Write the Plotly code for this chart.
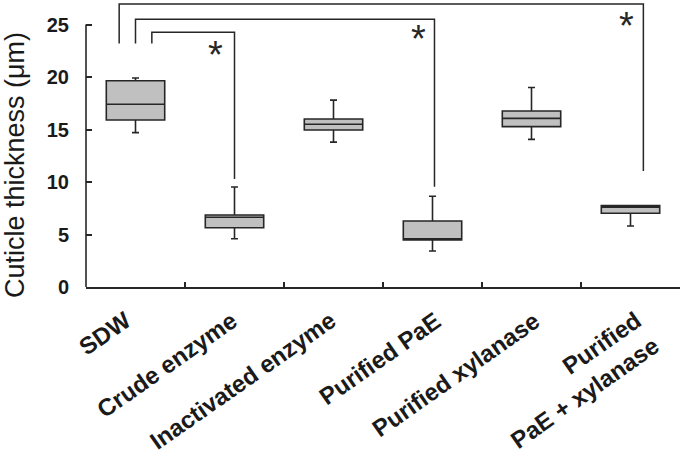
import plotly.graph_objects as go

# ---- data ----
categories = ["SDW", "Crude enzyme", "Inactivated enzyme", "Purified PaE",
              "Purified xylanase", "Purified<br>PaE + xylanase"]
q1 = [15.9, 5.65, 14.95, 4.48, 15.27, 7.02]
median = [17.4, 6.64, 15.5, 4.6, 16.06, 7.59]
q3 = [19.65, 6.86, 16.0, 6.29, 16.76, 7.75]
lowerfence = [14.7, 4.6, 13.8, 3.43, 14.06, 5.81]
upperfence = [19.9, 9.52, 17.8, 8.64, 19.0, 7.75]
y_ticks = [0, 5, 10, 15, 20, 25]

# significance brackets: left x, right x, top y, left-leg bottom, right-leg bottom
br_left = [0.165, 0.0, -0.165]
br_right = [1.0, 3.02, 5.13]
br_top = [24.26, 25.5, 26.95]
br_left_bottom = [23.2, 23.2, 23.2]
br_right_bottom = [10.29, 9.55, 11.05]
star_x = [0.81, 2.86, 4.96]
star_y = [22.7, 24.15, 25.4]

# layout/style
label_xshift = [2.5, 10.5, 10, 15.5, 15.5, 36]
FONT = "Liberation Sans, Arial, sans-serif"
DARK = "#262626"

xpos = list(range(len(categories)))

fig = go.Figure()
fig.add_trace(go.Box(
    x=xpos, q1=q1, median=median, q3=q3,
    lowerfence=lowerfence, upperfence=upperfence,
    width=0.59, whiskerwidth=0.12,
    fillcolor="#c0c0c0", line=dict(color=DARK, width=1.6),
    boxpoints=False, hoverinfo="skip", showlegend=False,
))

shapes = []
# y-axis line only up to 25
shapes.append(dict(type="line", xref="paper", yref="y", x0=0, x1=0, y0=0, y1=25,
                   line=dict(color=DARK, width=1.6)))
for i in range(len(br_left)):
    path = (f"M {br_left[i]},{br_left_bottom[i]} V {br_top[i]} "
            f"H {br_right[i]} V {br_right_bottom[i]}")
    shapes.append(dict(type="path", xref="x", yref="y", path=path,
                       line=dict(color=DARK, width=1.5)))

annotations = []
for i in range(len(star_x)):
    annotations.append(dict(x=star_x[i], y=star_y[i], xref="x", yref="y",
                            text="*", showarrow=False, yshift=-6,
                            font=dict(family=FONT, size=38, color=DARK)))
for i, c in enumerate(categories):
    annotations.append(dict(x=xpos[i], y=0, xref="x", yref="y", text=c,
                            showarrow=False, textangle=-35, xanchor="right",
                            yanchor="top", xshift=label_xshift[i], yshift=-17,
                            align="right",
                            font=dict(family=FONT, size=24, color="#1a1a1a",
                                      weight="bold")))
annotations.append(dict(x=-0.1195, y=0.4266, xref="paper", yref="paper",
                        text="Cuticle thickness (μm)", showarrow=False,
                        textangle=-90, xanchor="center", yanchor="middle",
                        font=dict(family=FONT, size=27, color="#1a1a1a")))

fig.update_layout(
    width=685, height=462,
    margin=dict(l=86, r=5, t=1, b=175, autoexpand=False),
    paper_bgcolor="white", plot_bgcolor="white",
    shapes=shapes, annotations=annotations,
    xaxis=dict(range=[-0.5, 5.5], tickvals=[x + 0.5 for x in [-1] + xpos],
               showticklabels=False, ticks="inside", ticklen=5,
               tickcolor=DARK, tickwidth=1.5, showgrid=False, zeroline=False,
               showline=True, linecolor=DARK, linewidth=1.6, automargin=False),
    yaxis=dict(range=[0, 286 / 10.5], tickvals=y_ticks, ticks="inside",
               ticklen=6, tickcolor=DARK, tickwidth=1.5, showgrid=False,
               zeroline=False, showline=False, ticklabelstandoff=16,
               automargin=False,
               tickfont=dict(family=FONT, size=20, color="#1a1a1a",
                             weight="bold")),
)

fig.write_html(
    "out.html",
    config={"displayModeBar": False},
    post_script="document.body.style.margin='0';document.body.style.overflow='hidden';",
)
